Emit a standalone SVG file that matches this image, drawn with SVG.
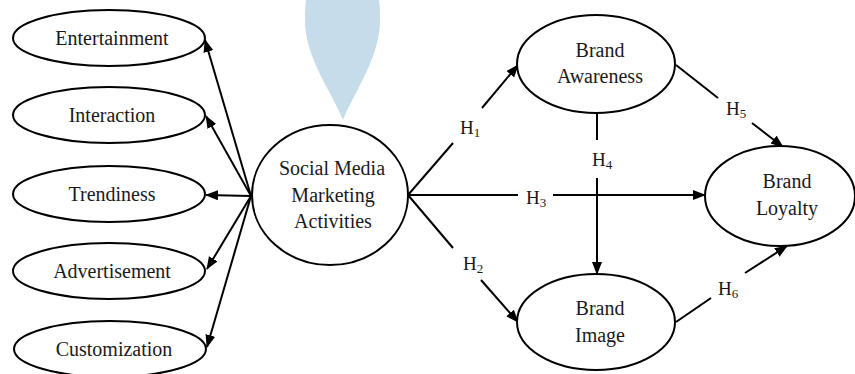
<svg xmlns="http://www.w3.org/2000/svg" width="855" height="374" viewBox="0 0 855 374">
  <style>
    .node { fill: #ffffff; stroke: #000000; stroke-width: 2; }
    .lbl { font-family: "Liberation Serif", "Times New Roman", serif; font-size: 20px; fill: #1a1a1a; text-anchor: middle; }
    .hyp { font-family: "Liberation Serif", "Times New Roman", serif; font-size: 19px; fill: #1a1a1a; }
    .sub { font-size: 13px; }
    .edge { fill: none; stroke: #000000; stroke-width: 2; }
    .arr { marker-end: url(#head); }
  </style>
  <defs>
    <marker id="head" markerUnits="userSpaceOnUse" markerWidth="14" markerHeight="12" refX="12" refY="5" orient="auto">
      <path d="M0,0 L13,5 L0,10 Z" fill="#000000"/>
    </marker>
  </defs>

  <rect x="0" y="0" width="855" height="374" fill="#ffffff"/>

  <!-- decorative drop shape -->
  <path d="M343,120 C332,92 305,58 305,20 C305,8 306,0 306,0 L379,0 C380,8 380,10 380,20 C380,58 354,92 343,120 Z" fill="#c6dcea"/>

  <!-- connectors -->
  <g id="connectors">
    <line class="edge arr" x1="251" y1="196" x2="205" y2="40"/>
    <line class="edge arr" x1="251" y1="196" x2="206" y2="116"/>
    <line class="edge arr" x1="251" y1="196" x2="206" y2="195"/>
    <line class="edge arr" x1="251" y1="196" x2="207" y2="269"/>
    <line class="edge arr" x1="251" y1="196" x2="207" y2="347"/>

    <!-- H1 -->
    <line class="edge" x1="408" y1="195" x2="453" y2="143"/>
    <line class="edge arr" x1="482" y1="108" x2="518" y2="65"/>
    <!-- H2 -->
    <line class="edge" x1="408" y1="195" x2="453" y2="248"/>
    <line class="edge arr" x1="481" y1="280" x2="518" y2="322"/>
    <!-- H3 -->
    <line class="edge" x1="408" y1="195" x2="518" y2="195"/>
    <line class="edge arr" x1="553" y1="195" x2="705" y2="195"/>
    <!-- H4 -->
    <line class="edge" x1="597" y1="113" x2="597" y2="140"/>
    <line class="edge arr" x1="597" y1="178" x2="597" y2="274"/>
    <!-- H5 -->
    <line class="edge" x1="676" y1="65" x2="718" y2="98"/>
    <line class="edge arr" x1="752" y1="123" x2="783" y2="147"/>
    <!-- H6 -->
    <line class="edge" x1="676" y1="322" x2="711" y2="298"/>
    <line class="edge arr" x1="745" y1="273" x2="787" y2="246"/>

    <text class="hyp" x="460" y="134">H<tspan class="sub" dy="3">1</tspan></text>
    <text class="hyp" x="463" y="270">H<tspan class="sub" dy="3">2</tspan></text>
    <text class="hyp" x="526" y="204">H<tspan class="sub" dy="3">3</tspan></text>
    <text class="hyp" x="592" y="166">H<tspan class="sub" dy="3">4</tspan></text>
    <text class="hyp" x="726" y="115">H<tspan class="sub" dy="3">5</tspan></text>
    <text class="hyp" x="718" y="295">H<tspan class="sub" dy="3">6</tspan></text>
  </g>

  <g id="entertainment">
    <ellipse class="node" cx="109" cy="38" rx="96" ry="28"/>
    <text class="lbl" x="112" y="45">Entertainment</text>
  </g>
  <g id="interaction">
    <ellipse class="node" cx="109" cy="115" rx="96" ry="28"/>
    <text class="lbl" x="112" y="122">Interaction</text>
  </g>
  <g id="trendiness">
    <ellipse class="node" cx="109" cy="194" rx="96" ry="28"/>
    <text class="lbl" x="112" y="201">Trendiness</text>
  </g>
  <g id="advertisement">
    <ellipse class="node" cx="109" cy="271" rx="96" ry="28"/>
    <text class="lbl" x="112" y="278">Advertisement</text>
  </g>
  <g id="customization">
    <ellipse class="node" cx="110" cy="349" rx="96" ry="28"/>
    <text class="lbl" x="114" y="356">Customization</text>
  </g>

  <g id="smma">
    <ellipse class="node" cx="330" cy="195" rx="78" ry="70"/>
    <text class="lbl" x="332" y="175">Social Media</text>
    <text class="lbl" x="333" y="202">Marketing</text>
    <text class="lbl" x="333" y="228">Activities</text>
  </g>

  <g id="brand-awareness">
    <ellipse class="node" cx="596" cy="64" rx="79" ry="49"/>
    <text class="lbl" x="600" y="57">Brand</text>
    <text class="lbl" x="600" y="83">Awareness</text>
  </g>

  <g id="brand-image">
    <ellipse class="node" cx="596" cy="322" rx="79" ry="48"/>
    <text class="lbl" x="600" y="315">Brand</text>
    <text class="lbl" x="600" y="342">Image</text>
  </g>

  <g id="brand-loyalty">
    <ellipse class="node" cx="780" cy="196" rx="75" ry="50"/>
    <text class="lbl" x="787" y="188">Brand</text>
    <text class="lbl" x="787" y="215">Loyalty</text>
  </g>
</svg>
